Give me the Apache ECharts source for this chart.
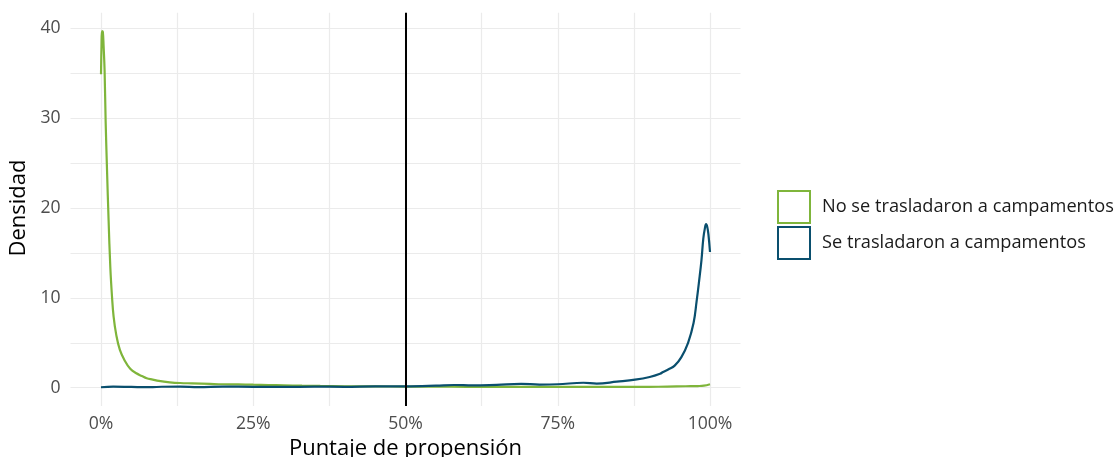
<!DOCTYPE html>
<html>
<head>
<meta charset="utf-8">
<script src="https://cdn.jsdelivr.net/npm/echarts@6/dist/echarts.min.js"></script>
<style>
html,body{margin:0;padding:0;background:#fff;}
#chart{width:1118px;height:457px;}
</style>
</head>
<body>
<div id="chart"></div>
<script>
// ---- Data (x in %, density) ----
const seriesNames = ['No se trasladaron a campamentos', 'Se trasladaron a campamentos'];
const xTickLabels = ['0%', '25%', '50%', '75%', '100%'];
const yTickLabels = ['0', '10', '20', '30', '40'];
const threshold = 50;

const greenX = [0, 0.08, 0.16, 0.3, 0.43, 0.59, 0.76, 0.99, 1.25, 1.53, 1.8, 2.07, 2.5, 3.1, 3.9, 4.8, 5.8, 6.7, 7.5, 8.5, 9.5, 11.3, 13, 15, 17.9, 20, 22.5, 25, 27.5, 30, 33, 36, 40, 45, 50, 55, 60, 65, 70, 75, 80, 85, 90, 93, 96, 98, 99, 100];
const greenY = [34.9, 38.0, 39.7, 39.6, 38.0, 35.3, 29.7, 24.2, 18.6, 13.4, 10.2, 7.9, 5.9, 4.2, 3.0, 2.1, 1.6, 1.3, 1.05, 0.9, 0.75, 0.6, 0.52, 0.48, 0.42, 0.38, 0.36, 0.33, 0.3, 0.26, 0.22, 0.19, 0.16, 0.14, 0.12, 0.11, 0.1, 0.1, 0.1, 0.09, 0.08, 0.08, 0.09, 0.12, 0.16, 0.18, 0.22, 0.38];

const blueX = [0, 2, 5, 8, 10, 13, 16, 20, 25, 30, 35, 40, 45, 50, 55, 58, 61, 65, 69, 72, 75, 79.2, 81.4, 84.7, 87.7, 90.1, 91.8, 92.3, 93.2, 94.2, 95.3, 96.4, 97.3, 97.8, 98.2, 98.6, 98.9, 99.15, 99.35, 99.55, 99.75, 100];
const blueY = [0.05, 0.12, 0.08, 0.05, 0.1, 0.12, 0.05, 0.12, 0.1, 0.08, 0.12, 0.1, 0.15, 0.15, 0.22, 0.3, 0.25, 0.32, 0.42, 0.35, 0.38, 0.55, 0.45, 0.67, 0.89, 1.19, 1.55, 1.75, 2.05, 2.45, 3.4, 5.0, 7.2, 9.6, 11.8, 14.2, 16.6, 17.7, 18.2, 17.9, 17.0, 15.1];

// ---- Styling ----
const GREEN = '#7fb53b';
const BLUE = '#0a4f6e';
const FONT = 'Open Sans';
const GRIDC = '#ebebeb';

function pairs(xs, ys) { return xs.map((x, i) => [x, ys[i]]); }

const chart = echarts.init(document.getElementById('chart'), null, {renderer: 'canvas'});
chart.setOption({
  backgroundColor: '#ffffff',
  animation: false,
  textStyle: {fontFamily: FONT},
  grid: [
    {left: 101, right: 408, top: 12.7, bottom: 51, outerBoundsMode: 'none', containLabel: false},
    {left: 70.5, right: 377.5, top: 28.3, bottom: 69.3, outerBoundsMode: 'none', containLabel: false}
  ],
  xAxis: [
    {
      gridIndex: 0, type: 'value', min: 0, max: 100, interval: 12.5,
      axisLine: {show: false}, axisTick: {show: false},
      splitLine: {show: true, lineStyle: {color: GRIDC, width: 1.2}},
      axisLabel: {
        color: '#4d4d4d', fontFamily: FONT, fontSize: 17.6, margin: 9,
        formatter: v => (v % 25 === 0 ? xTickLabels[v / 25] : '')
      },
      name: 'Puntaje de propensión', nameLocation: 'middle', nameGap: 25,
      nameTextStyle: {color: '#000', fontFamily: FONT, fontSize: 22}
    },
    {gridIndex: 1, type: 'value', min: 0, max: 1, show: false}
  ],
  yAxis: [
    {gridIndex: 0, type: 'value', min: -2.04, max: 41.74, show: false},
    {
      gridIndex: 1, type: 'value', min: 0, max: 40, interval: 5,
      axisLine: {show: false}, axisTick: {show: false},
      splitLine: {show: true, lineStyle: {color: GRIDC, width: 1.2}},
      axisLabel: {
        color: '#4d4d4d', fontFamily: FONT, fontSize: 17.6, margin: 10,
        formatter: v => (v % 10 === 0 ? yTickLabels[v / 10] : '')
      },
      name: 'Densidad', nameLocation: 'middle', nameGap: 37, nameRotate: 90,
      nameTextStyle: {color: '#000', fontFamily: FONT, fontSize: 22}
    }
  ],
  legend: {
    orient: 'vertical', left: 777, top: 190, padding: 0,
    itemWidth: 32, itemHeight: 32, itemGap: 2,
    textStyle: {color: '#1a1a1a', fontFamily: FONT, fontSize: 18.2, padding: [0, 0, 0, 7]},
    data: [
      {name: seriesNames[0], icon: 'rect', itemStyle: {color: '#ffffff', borderColor: GREEN, borderWidth: 2}},
      {name: seriesNames[1], icon: 'rect', itemStyle: {color: '#ffffff', borderColor: BLUE, borderWidth: 2}}
    ]
  },
  series: [
    {
      name: seriesNames[0], type: 'line', xAxisIndex: 0, yAxisIndex: 0,
      data: pairs(greenX, greenY), showSymbol: false, symbol: 'none',
      smooth: 0.4,
      lineStyle: {color: GREEN, width: 2.2}, itemStyle: {color: GREEN},
      z: 3
    },
    {
      name: seriesNames[1], type: 'line', xAxisIndex: 0, yAxisIndex: 0,
      data: pairs(blueX, blueY), showSymbol: false, symbol: 'none',
      smooth: 0.4,
      lineStyle: {color: BLUE, width: 2.2}, itemStyle: {color: BLUE},
      z: 4,
      markLine: {
        silent: true, symbol: ['none', 'none'], label: {show: false},
        lineStyle: {color: '#000', width: 2, type: 'solid'},
        data: [{xAxis: threshold}]
      }
    }
  ]
});
</script>
</body>
</html>
